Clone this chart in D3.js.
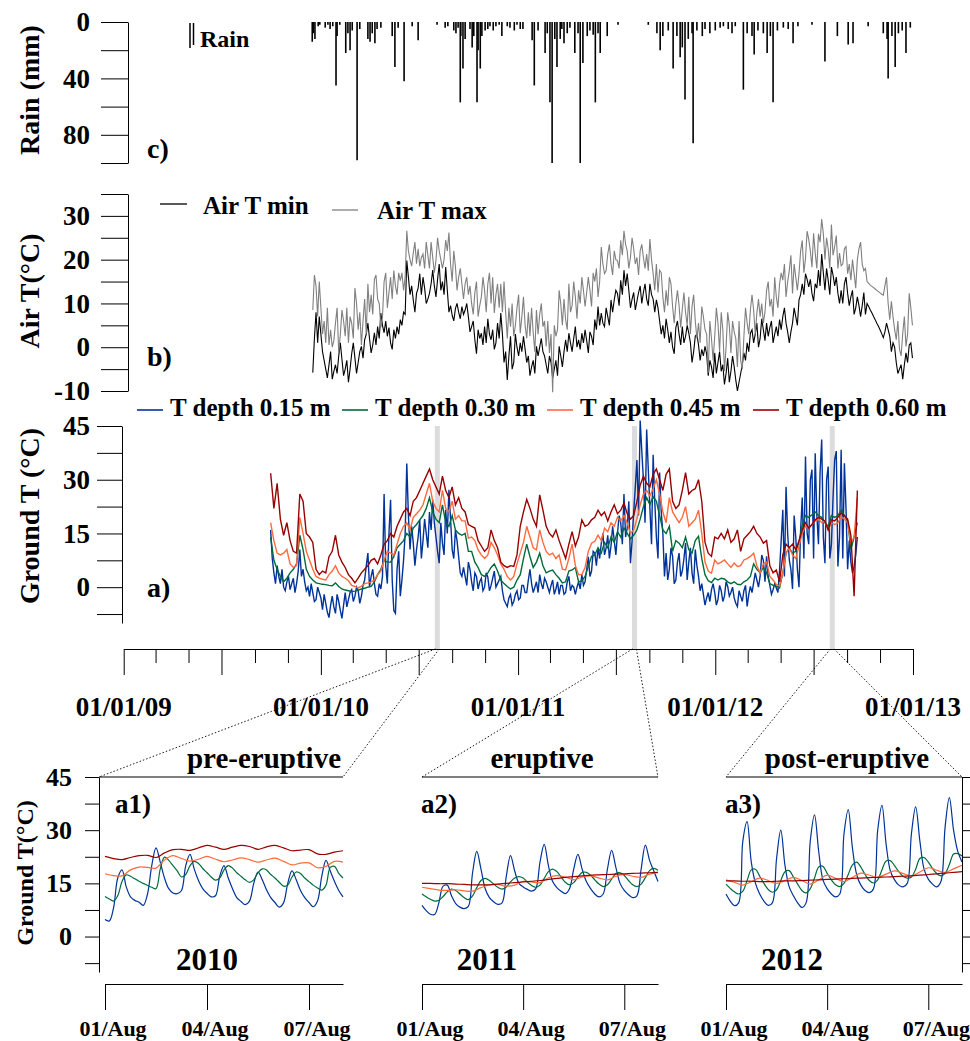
<!DOCTYPE html>
<html>
<head>
<meta charset="utf-8">
<title>Rain, air and ground temperature</title>
<script src="https://cdn.jsdelivr.net/npm/d3@7/dist/d3.min.js"></script>
<style>
  body { margin: 0; background: #fff; }
  svg text { font-family: "Liberation Serif", "Times New Roman", serif; font-weight: bold; fill: #000; }
</style>
</head>
<body>
<div id="putGraphic"></div>
<script>
// ---------------- data ----------------
var years = [2009, 2010, 2011, 2012, 2013];

// daily rain events [date, mm]
var rain = [
  ["2009-12-16",14],["2009-12-18",8],["2009-12-21",12],["2009-12-27",3],["2009-12-30",2],
  ["2010-01-09",4],["2010-01-14",2],["2010-01-18",5],["2010-01-23",3],["2010-01-29",45],
  ["2010-01-31",10],["2010-02-05",2],["2010-02-16",22],["2010-02-20",8],["2010-02-24",20],
  ["2010-02-28",6],["2010-03-09",98],["2010-03-14",5],["2010-03-29",12],["2010-04-02",14],
  ["2010-04-06",8],["2010-04-11",15],["2010-04-15",5],["2010-04-22",4],["2010-05-13",10],
  ["2010-05-18",32],["2010-05-24",4],["2010-06-04",42],["2010-06-19",3],["2010-06-30",13],
  ["2010-08-04",2],["2010-08-19",4],["2010-08-24",3],["2010-09-04",6],["2010-09-08",8],
  ["2010-09-12",4],["2010-09-16",57],["2010-09-17",10],["2010-09-21",33],["2010-09-25",12],
  ["2010-10-04",5],["2010-10-08",18],["2010-10-11",10],["2010-10-17",57],["2010-10-19",20],
  ["2010-10-23",33],["2010-10-26",10],["2010-11-01",6],["2010-11-06",5],["2010-11-10",3],
  ["2010-11-16",6],["2010-11-21",3],["2010-11-27",2],["2010-12-02",10],["2010-12-12",3],
  ["2010-12-17",4],["2010-12-25",6],["2010-12-30",2],["2011-01-05",5],["2011-01-10",5],
  ["2011-01-27",13],["2011-01-31",45],["2011-02-07",6],["2011-02-20",22],["2011-02-24",8],
  ["2011-03-01",57],["2011-03-05",100],["2011-03-10",12],["2011-03-14",32],["2011-03-20",12],
  ["2011-03-23",5],["2011-03-27",15],["2011-04-02",8],["2011-04-07",4],["2011-04-16",22],
  ["2011-04-22",8],["2011-04-26",100],["2011-05-01",29],["2011-05-09",10],["2011-05-14",6],
  ["2011-05-20",9],["2011-05-24",57],["2011-05-29",8],["2011-06-02",22],["2011-06-15",10],
  ["2011-07-05",2],["2011-08-30",2],["2011-09-15",8],["2011-09-21",20],["2011-09-26",10],
  ["2011-10-06",6],["2011-10-15",33],["2011-10-22",10],["2011-10-28",25],["2011-11-01",18],
  ["2011-11-06",55],["2011-11-12",12],["2011-11-19",8],["2011-11-21",86],["2011-11-28",6],
  ["2011-12-08",10],["2011-12-13",5],["2011-12-22",8],["2012-01-01",6],["2012-01-10",4],
  ["2012-01-16",3],["2012-01-25",5],["2012-02-01",8],["2012-02-07",3],["2012-02-22",48],
  ["2012-02-29",8],["2012-03-09",10],["2012-03-13",23],["2012-03-20",6],["2012-03-30",8],
  ["2012-04-06",22],["2012-04-12",10],["2012-04-17",57],["2012-04-25",6],["2012-05-06",4],
  ["2012-05-15",5],["2012-05-24",15],["2012-06-02",3],["2012-06-28",2],["2012-07-22",28],
  ["2012-08-14",10],["2012-09-03",16],["2012-09-12",15],["2012-10-10",3],["2012-11-07",8],
  ["2012-11-14",12],["2012-11-16",40],["2012-11-23",10],["2012-11-29",32],["2012-12-05",8],
  ["2012-12-12",6],["2012-12-19",22],["2012-12-27",4]
];

// air temperature: readings every 6 days from airStart, plus the readings 3 days later (Mid)
var airStart = "2009-12-17";
var airStepDays = 6;
var airMin = [
  -5.8,8,7,-1,-5,-4,-7.3,-4,-2,-2.8, -5,-8,-1.5,-2.5,-3.5,0.2,1.7,5.5,-1.3,3.3,
  4.7,7.8,3.3,2.5,1,4,4.7,6.3,8,19.8, 12,10.8,12.3,16.8,16,10,12.3,17.6,11.5,19,
  15,18.3,8,7.3,8.8,8,9.3,8.5,7,4.7, 1.7,4,
  3.2,4.7,6.5,1.7,-0.5,5.5,7.8,-3.5,-7.5,2.5, -3.5,0,1,2.5,-3.5,-6.5,-3,0.2,0,-1,
  -4,-2,-7,-3,0.2,-4.5,1.7,3.2,-1,4.7, 1.7,3.2,4,-1.3,2.5,6.3,9.3,7.8,4.7,7,
  10.8,10.8,12.3,15.3,17.6,16.8,9,12.5,10.5,14, 12.5,11,14.5,11,10.8,6,5,6.5,1,0,
  4.5,3,4.7,2.5,3.2,-3.5,2.5,0.5,-0.5,0.2, -6.5,-4.5,-1.3,-3.5,-5.5,-8.5,-2.5,-5.5,-4.5,-10,
  -6,-1.3,1,3.2,1,5.5,2,4,5.5,4.5, 1,4.7,6.3,7,5.5,1,5.5,7,10.8,14.5,
  16.8,13.8,12.3,14.5,17.6,21.3,13,15.3,18.3,14, 12.3,13,14.5,12.3,11.5,7.5,11.5,7,12.5,10,
  8.5,7,5.5,4,2.2,5.5,2.5,1,-3.5,-5, -7.3,-1.3,0.5,-2.5
];
var airMinMid = [
  2,1,3,-3,-7,-1,-5.5,-6,1,-6.5, -3,-5,1,-6,-1,-2.5,3,2,0.5,0.5,
  2,5,6,4.5,-0.5,2,3,5,7.5,16, 14,8,13.5,12,13.5,11,14.5,14,15.5,13,
  12,13,9.5,6,10,6.5,7.5,10,3.5,6, -1.5,2,
  0.5,1,3,4,1,2,3,-1,-2,-5, 3,-2,-1,-0.5,-2,-4.5,-6,-2,2,-2,
  -6,-3.5,-5,-6.5,-2,-1,-1,1,2,0, -0.5,1,1.5,3.5,0.5,4,5,5.5,9,5,
  8,13,9.5,12,14,13,11,8.5,12.5,10, 14.5,9.5,12,8,9,3,2,4,3.5,-1.5,
  6,0.5,1,5,1,-1,3,-3,-2,-1.5, -3,-7,-6,-1,-4,-6,-8,-2,-7.5,-8,
  -4,-3,-1,4,3,0,6.5,1.5,2.5,6, 3,2.5,4,9,3.5,3.5,9,5,12,12,
  15.5,15.5,10.5,13.5,14,17,18,12,16.5,16, 10,10,16,9.5,13,9,9.5,9.5,7.5,9.3,
  7.8,6.3,4.8,3.1,3.5,4,-1,0,-6,-4, -4,-3.5,1
];
var airMax = [
  8.5,14,15,3,1,0.5,0,5.5,-1.3,8.5, 2.5,1,5.5,13.5,4,0.5,11,14.5,12,15.5,
  11,4.5,15,9,16,17.5,12,15.2,13,26.6, 20,21.5,19.1,18.5,21.3,24,18,20.5,19.8,22,
  18,24.5,26.2,15,18.5,16,14.5,14.5,12,10, 12.5,7,
  11.5,13,14.5,10,7.8,14.5,14.5,15,2,4.7, 2.5,9,3.2,11.5,2,2.5,3.3,8.5,7.5,4.7,
  0.2,-1.3,-10.3,2.5,13,5,6.3,14.5,9.5,11.5, 13,16,9.3,16,9.3,15,11.5,22.9,16.8,21.3,
  19,22,19.8,24.4,26.6,22,20.5,22.5,20.5,22, 20.5,21.3,24.7,16.8,19,17.6,11.5,13,16,9.3,
  10,9.5,8.8,8,11.5,9.3,6,5.5,9.3,4, -5.8,2,2.5,5.5,8,-5.5,8,-1.3,3.5,-4.5,
  -3,2.5,5.5,8.5,8.5,7.8,7,5.5,13,9.3, 7,11.5,14.5,15.3,11.5,17.5,12.3,16,16.8,24.4,
  20.3,24.7,18.3,21.5,25.9,29.3,20,22.5,28,23, 18,18.6,22.5,16.8,15.3,16.8,20,24,17.5,15,
  14.2,13.6,13,12.4,11.9,16,6.3,7,1.7,-0.5, 3.2,0.2,12.3,5
];
var airMaxMid = [
  16.5,7,9,6,9,4,1.5,9,3,6, 9,7,2,10,8,6,3,8,7.5,16.5,
  10,7,17,12.5,11,14,17,17,16,22, 18.5,24,22.5,20.5,18,21,24,17,25,20,
  20,22,19,22,13,18,11,16,14,7.5, 15,9.5,
  16,8,17,16,12,9,8,8,9,10, 5,12,7,5,8,9,-1,3,10,6,
  6,3,5,4,10,11,4,8,15,6.5, 10,13,12.5,13,17,18,15,19,17.5,23.5,
  16.5,20,18,21,23.5,18,25,19,16.5,23.5, 18,17.5,20,13,12.5,17,8,9.5,14.5,5.5,
  13,4.5,12.5,5,3,12,2,1,7,3, 6,-3,9,-1,4,0,5,6,2,6,
  -5,9,3,12,3,11,10,8,15,11, 16,9,17,19,15,21,19,13,22,17,
  26.5,22,26,18,24,26,25,18,21,25.5, 21.5,19,23,19,20,13.5,22.5,19,18,14.6,
  13.9,13.3,12.7,12.1,14,10,10.5,4,6,-2, 7,3,9
];

// ground temperature: readings every 6 days from groundStart (0.15 m also 3 days later)
var groundStart = "2009-09-30";
var groundStepDays = 6;
var depthLabels = ["T depth 0.15 m", "T depth 0.30 m", "T depth 0.45 m", "T depth 0.60 m"];
var t015 = [
  16,4,6,1,0,1.5,-0.7,2.5,1,10.5, 5,-1,-2.6,-1.5,-3.5,-1.5,-6.3,-4.5,-8.5,-2.5,
  -7.3,-4,-8.7,-1.5,-3.5,-0.7,-2.5,-1,-2.5,2, 9.5,3,1,-2.5,-0.5,26,1,24.4,-6.5,5,
  -2.5,7.5,34.5,10.5,12.3,10.5,18.8,13,15,21, 24.4,14,6.7,12.3,21.6,27.2,10.5,16,8.5,3,
  3,7,1.5,4,-0.5,2.5,0,2.8,0.5,4.5, 1,3,-3.5,-5.4,-2,-4,-1,-3,0.5,-1.5,
  5,-1.5,1.5,3.5,-0.5,1.5,-1.5,2,-0.5,-2, 0.5,-1.5,3,0.5,-2,1.5,3.5,1.5,8.5,4.5,
  9.5,11,12.3,9,14.5,11.5,13,15,18,26, 16.5,6.7,21,35.5,46.5,30,44,22,37,14,
  32,15,
  9.5,5,8.6,2,9.5,4.5,12.3,7,4,10.5, 3,1,-5,-1.5,-0.7,-1.5,-3.5,-1,-2.5,0.2,
  -1.5,-3,-5.4,-2.5,-1,-5.4,0.2,1.2,2,3, 7.5,8.6,0.5,-0.7,-0.2,4.8,21.6,28,7.6,-0.5,
  14,0,25,36.5,12,32.8,37.4,12,41.2,6.7, 33.7,12,35.6,5.8,38.4,34.6,5,7,5.8,14
];
var t015Mid = [
  8,1,3,5,-1,3,1,-1.5,4.5,3, 1.5,0,1,-4,0,-3,-2,-7,-5,-5.5,
  -2,-6.5,-5,-5.5,-1.5,-4,0,-4.5,0.5,6, 0,5,-2,1,3,6,15,2,-7.3,10,
  2,15,20,17,6,14,8,19,11,16, 18,10,18,9,15,19,8,13,4,5.5,
  0.5,5,-1,3,1.5,-1,4,-1,2.5,0, 2,-1,-4.5,-3,-5,-2,-3.5,0.5,-1.5,2,
  1,0,-1.5,1,2.5,0,0.5,-2,1.5,0.5, -2,1.5,-1,0,0,-0.5,0.5,5,3,10,
  6,8,15,11,8,17,9,20,12,14, 24,13,28,20,38,18,33,12,24,8,
  21,3,
  2,11,1,7,3,8,2,11,1,6, -1,-2,-3,-4,1,-5,0.5,-4,1.5,-2.5,
  0,-4.5,-1,-4,0.5,-2,-1.5,4,0,9, 1.5,3,-2,1,-1.5,13,3,15,5,20,
  5,16,8,15,30,8,20,32,14,30, 8,25,38,14,8,22,13,4,9
];
var t030 = [
  14,7.5,5,3,1.5,2.5,4,5,6.5,14.5, 10.5,5,3,2,1.2,1.0,0.8,0.7,0.5,0.4,
  1.2,0.2,-0.5,-0.8,-1,-1.2,-1.1,-0.8,-0.5,-0.3, 0,0.2,1.5,3.5,5,7.5,7,7,8.5,11,
  12,13,15,14,16.5,17.5,18.8,20,22,25, 21,19,18,23,18,17,20,16,15,14.5,
  15,10,10,7,5.5,3.5,3,4,5.5,6.5, 4.5,2,1,0.2,-0.5,0,2,3.5,8,12,
  8.5,5.5,7,9.5,6,4,4.5,4.8,3.5,2.5, 1.2,1.5,4.5,4.8,5.5,1.5,1.8,3,5.8,8.6,
  9,11,9.5,12.5,11,14,12.5,15.5,14,16.5, 15,13.5,14.5,16,19,22.5,25,23,25.3,24,
  20,16,
  15,17,10,13,12.3,11,14,10.5,9.5,13, 14.2,8,3.5,1.8,1.3,2.5,2,2.5,2.3,1.5,
  1.0,1.5,0.8,0.7,1.5,2,3,6.5,5,4, 5.5,4,1,0.5,0.3,-0.2,4,9.5,11,9.5,
  10,12.5,17.5,20,19.5,20.2,21,20,19.5,18, 17,20,19.5,20,21.5,20,18.5,10.5,14,18
];
var t045 = [
  18,13,9.5,9,9.5,10.5,6.5,5.5,6,19.5, 15,10,7.5,5,3,2.5,2.2,2,3.5,4.5,
  6,4,3,2.5,1.8,0.5,0.2,-0.2,0.3,1, 1.2,1.5,2,3.5,4.5,7.5,10,9.5,9,12,
  15,17,18,16,19.5,20.5,21.5,23,26,29, 24,22,21,27,22,21,24,19,20,18.5,
  18.5,13.7,14,13,10.4,9,8,9,12.5,11, 9,6.5,5,3,2,3,6.5,9.5,12.5,17,
  14,11,10.4,16,12.5,10,9,9.5,8,9, 5,4.8,8,12,6,3.5,3.5,5.5,10,12.3,
  12.8,14.5,13,16.5,15.5,18,17,19.5,18.5,20, 17.9,15,16,19,23,26,27,25.5,27.5,30,
  26,21,
  18,25,21,19.5,18,19.5,22.5,17,18,19, 21.5,15,7,4.5,3.9,7.6,6.5,7,7.6,6.5,
  5.5,6.7,5.8,6,7.6,8,8.6,9.5,6,4, 6.5,7,3,2,0.8,0.3,4,9.5,11,9,
  8,11.5,15,17,16.5,17.5,18.5,19,18,18.5, 16,18,17.5,18,19.7,19,18,12.3,14,25
];
var t060 = [
  31.8,22,29,19,14.5,18,13,10,9.5,26, 24,15,14,12.5,5,3.5,4.5,4,8.5,10,
  14.5,9,7,5.5,3.5,2.5,1.2,2.5,4,5, 6,7.5,8,6.5,9,12,13,15,14,17,
  19,21,22,20,24,25,27,29,31,33, 30,28,26,31,27,25,28,23,25,22,
  21,17.5,17,16.5,13,11.5,10,11,16,13, 11,7,6,5.5,6,5.8,9,17,21,24.5,
  22,19,17,25.8,21.5,17,15,14,16,13, 10.5,8,12,15.5,11.5,14,18.8,17,17.5,18.8,
  19.5,21.5,20,21,18.5,21,23,20.5,21.5,23.5, 20.5,19,20,24,28.5,31,29,28,31.5,33,
  30,27,
  31.5,33,24,22,23,27,32,26,27,27.5, 30,24,12.5,9.5,8.6,14,13.5,15,13.5,16,
  12.5,13.5,16,10,13.5,14.5,15.5,17,15,14, 12.3,13,6,4,4.8,1.5,9,12,11,12,
  10.5,13,16,18,16.5,17.5,18.8,19.5,19,18.5, 16,18.8,18.5,19.5,20.7,20,19,14.5,-2.5,27
];

// zoomed weeks (1-8 August); 0.15/0.30 m every 3 h, 0.45/0.60 m every 6 h
var insetYears = [2010, 2011, 2012];
var insetNames = ["pre-eruptive", "eruptive", "post-eruptive"];
var insetTags = ["a1)", "a2)", "a3)"];
var insetTickDays = [1, 4, 7];
var seriesStepHours = [3, 3, 6, 6];

var blue2010 = [4.8,4.4,8,16.5,18.8,14,11.2,10.2, 9.7,8.8,12,20,25,21,16.5,13.5,
  12.3,12.1,13,20,23.2,19,15.8,13.5, 12.2,11.2,11.5,17,20,16.5,13.5,11,
  9.9,9,10,15,18.2,16,13.2,11, 9.6,8.3,9.5,15,18.5,16,13,11, 9.6,8.4,10,17,21.5,18.5,15.5,13, 11.2];
var green2010 = [11.3,10.6,10.0,11.5,15.5,17.4,17.0,16.3, 15.6,15.0,14.4,13.9,13.5,19,22.4,21.5,
  20,18.5,16.8,17.5,20,21.2,20.6,19.2, 18,16.8,15.9,16.5,18.8,20,19.3,18,
  17,16,15.3,16,18,19.1,18.8,17.5, 16.5,15.3,14.2,14.5,16.8,18.2,17.8,16.5,
  15.5,14.5,13.7,13.1,14.5,19.5,19.8,17.8, 16.5];
var orange2010 = [17.7,17.2,17.1,18.8,19.6,19.5,19.3,21.6,22.8,22.0,21.3,21.8,22.6,21.8,21.1,
  21.6,22.2,21.7,21.0,21.6,22.1,21.2,20.2,20.7,20.8,19.4,19.8,21.2,21.0];
var red2010 = [22.6,22.0,21.7,22.3,22.8,22.9,22.3,23.6,24.5,24.6,24.3,25.0,25.7,25.2,24.6,
  25.2,25.7,25.4,24.6,25.3,25.7,25.0,24.2,24.4,24.5,23.3,23.2,23.8,24.2];

var blue2011 = [8.8,7.3,6.3,6.2,9.5,14.2,14.5,11.5, 9.3,8.3,7.9,8.5,18,24,19,13.5,
  11,9.8,9.1,9.5,17,22.8,18.5,15, 14,13.3,12.8,13.5,21,26,20,15.5,
  13.8,12.8,12.1,13.5,19,23.2,19,15.5, 13.5,12,11.2,12,19,24.3,19.5,15,
  13,11.8,11,11.5,19,25.8,21.5,18.5, 15.5];
var green2011 = [12.0,11.2,10.5,10.0,10.2,11.3,12.6,13.4, 13.0,12.0,11.0,10.4,11.5,13.8,15.8,16.4,
  15.8,14.8,13.9,13.4,14.0,15.4,16.5,16.9, 16.5,15.4,14.4,13.9,14.5,16.4,18.3,19.0,
  18.3,16.8,15.3,14.6,15.2,16.8,18.1,18.1, 17.3,16.0,14.8,14.1,14.6,16.2,17.8,18.0,
  17.2,15.8,14.6,14.1,14.8,16.6,18.6,19.2, 18.7];
var orange2011 = [13.9,13.5,13.1,13.0,13.2,12.9,12.8,13.8,14.6,14.7,14.2,14.5,15.6,15.4,15.2,
  16.6,17.2,16.8,16.0,16.8,17.1,16.5,16.0,17.0,17.5,17.0,16.7,17.6,18.1];
var red2011 = [15.0,15.0,14.9,14.9,14.8,14.7,14.6,14.6,14.6,14.8,15.0,15.2,15.4,15.6,15.8,
  16.1,16.4,16.7,16.9,17.1,17.3,17.4,17.5,17.6,17.7,17.8,17.9,18.0,18.1];

var blue2012 = [12,10,8.7,9.5,27,32.4,21,15, 12,10,8.8,9.5,22,30,20,14,
  11.5,9.5,8.2,9.5,27,34.3,24,16, 13.5,12,11.2,12,29,35.8,25,17.5,
  14.5,13,12.4,13.5,30,37,26,18.5, 16,14.5,14,15,29,36.6,27,19,
  16.2,14.8,14,15.5,31,39.2,30,24, 21];
var green2012 = [14.8,13.6,12.6,12.0,12.8,15.8,18.8,19.0, 17.0,15.0,13.3,12.5,13.2,15.8,18.3,18.6,
  16.8,14.8,13.0,12.3,13.5,16.5,19.6,19.8, 17.8,16.0,14.6,14.1,15.0,17.5,20.2,21.0,
  19.6,17.5,15.8,15.1,16.0,18.8,21.3,21.4, 20.0,18.3,17.0,16.5,16.8,19.0,22.0,22.3,
  21.0,19.2,17.8,17.1,17.8,20.3,23.3,23.4, 22.7];
var orange2012 = [16.0,15.3,14.5,15.5,16.5,15.8,15.0,15.8,16.7,15.8,14.8,16.0,17.3,16.4,15.5,
  16.7,17.9,17.3,16.7,17.6,18.5,17.8,17.1,18.2,19.4,18.7,18.1,19.1,20.1];
var red2012 = [15.7,15.7,15.6,15.6,15.5,15.5,15.6,15.7,15.7,15.8,15.9,16.0,16.1,16.2,16.3,
  16.4,16.5,16.6,16.7,16.8,16.9,17.0,17.1,17.3,17.5,17.7,17.9,18.1,18.3];

// ---------------- drawing ----------------
var depthColors = ["#003399", "#006b3c", "#ff6a3d", "#990000"];

// put the in-between readings back in time order
function interleave(a, mid) {
    var out = [];
    a.forEach(function(v, i) {
        out.push(v);
        if (i < mid.length) out.push(mid[i]);
    });
    return out;
}
var airMinAll = interleave(airMin, airMinMid);
var airMaxAll = interleave(airMax, airMaxMid);
var groundSeries = [
    {values: interleave(t015, t015Mid), step: groundStepDays / 2},
    {values: t030, step: groundStepDays},
    {values: t045, step: groundStepDays},
    {values: t060, step: groundStepDays}
];
var insetData = [
  [blue2010, green2010, orange2010, red2010],
  [blue2011, green2011, orange2011, red2011],
  [blue2012, green2012, orange2012, red2012]
];

var width = 970, height = 1041;
var parse = d3.timeParse("%Y-%m-%d");

var svg = d3.select("#putGraphic")
    .append("svg")
    .attr("width", width)
    .attr("height", height)
    .style("background", "white");

function txt(xp, yp, s, size, anchor) {
    return svg.append("text")
        .attr("x", xp).attr("y", yp)
        .attr("font-size", size)
        .attr("text-anchor", anchor || "start")
        .text(s);
}
function vtxt(xp, yp, s, size) {
    return svg.append("text")
        .attr("transform", "translate(" + xp + "," + yp + ")rotate(-90)")
        .attr("font-size", size)
        .attr("text-anchor", "middle")
        .text(s);
}
function styleAxis(g, size) {
    g.attr("font-size", size);
    g.selectAll("path, line").attr("stroke", "#000").attr("stroke-width", 1);
    g.selectAll("text").attr("fill", "#000");
}

var x = d3.scaleTime().domain([new Date(2009, 0, 1), new Date(2013, 0, 1)]).range([123.7, 913]);

// c) rain
var rainY = d3.scaleLinear().domain([0, 100]).range([22, 163]);
var gRain = svg.append("g").attr("transform", "translate(128,0)")
    .call(d3.axisLeft(rainY).tickValues([0, 20, 40, 60, 80, 100])
        .tickFormat(function(d) { return d % 40 === 0 ? d : ""; })
        .tickSize(27).tickPadding(11).tickSizeOuter(0));
styleAxis(gRain, 27);

svg.append("g").selectAll("line")
    .data(rain)
    .enter()
    .append("line")
    .attr("x1", function(d) { return x(parse(d[0])); })
    .attr("x2", function(d) { return x(parse(d[0])); })
    .attr("y1", rainY(0))
    .attr("y2", function(d) { return rainY(d[1]); })
    .attr("stroke", "#000")
    .attr("stroke-width", 1.6);

vtxt(39, 90, "Rain (mm)", 28);
txt(147, 158, "c)", 28);
svg.append("line").attr("x1", 190).attr("x2", 190).attr("y1", 23).attr("y2", 48).attr("stroke", "#000").attr("stroke-width", 1.5);
svg.append("line").attr("x1", 193.5).attr("x2", 193.5).attr("y1", 23).attr("y2", 45).attr("stroke", "#000").attr("stroke-width", 1.5);
txt(200, 47, "Rain", 24);

// b) air temperature
var airY = d3.scaleLinear().domain([-10, 35]).range([391, 194]);
var gAir = svg.append("g").attr("transform", "translate(128,0)")
    .call(d3.axisLeft(airY).tickValues(d3.range(-10, 36, 5))
        .tickFormat(function(d) { return d % 10 === 0 ? d : ""; })
        .tickSize(27).tickPadding(11).tickSizeOuter(0));
styleAxis(gAir, 27);

var airT0 = parse(airStart);
var airLine = d3.line()
    .x(function(d, i) { return x(d3.timeDay.offset(airT0, i * airStepDays / 2)); })
    .y(function(d) { return airY(d); });
svg.append("path").attr("d", airLine(airMinAll)).attr("fill", "none").attr("stroke", "#000").attr("stroke-width", 1.1);
svg.append("path").attr("d", airLine(airMaxAll)).attr("fill", "none").attr("stroke", "#808080").attr("stroke-width", 1.1);

vtxt(39, 291, "Air T(\u00B0C)", 28);
txt(147, 366, "b)", 28);
svg.append("line").attr("x1", 160).attr("x2", 187).attr("y1", 204).attr("y2", 204).attr("stroke", "#000").attr("stroke-width", 1.3);
txt(203, 214, "Air T min", 25);
svg.append("line").attr("x1", 332).attr("x2", 358).attr("y1", 210).attr("y2", 210).attr("stroke", "#808080").attr("stroke-width", 1.3);
txt(377, 219, "Air T max", 25);

// a) ground temperature
var gY = d3.scaleLinear().domain([-10, 45]).range([623, 426]);

insetYears.forEach(function(yr) {
    var cx = (x(new Date(yr, 7, 1)) + x(new Date(yr, 7, 8))) / 2;
    svg.append("rect").attr("x", cx - 2.5).attr("y", 426).attr("width", 5).attr("height", 223).attr("fill", "#dcdcdc");
});

var gGround = svg.append("g").attr("transform", "translate(122,0)")
    .call(d3.axisLeft(gY).tickValues(d3.range(-7.5, 46, 7.5))
        .tickFormat(function(d) { return d % 15 === 0 ? d : ""; })
        .tickSize(25).tickPadding(7).tickSizeOuter(0));
styleAxis(gGround, 27);

var gT0 = parse(groundStart);
groundSeries.forEach(function(s, k) {
    var line = d3.line()
        .x(function(d, i) { return x(d3.timeDay.offset(gT0, i * s.step)); })
        .y(function(d) { return gY(d); });
    svg.append("path").attr("d", line(s.values)).attr("fill", "none")
        .attr("stroke", depthColors[k]).attr("stroke-width", 1.4);
});

vtxt(39, 516, "Ground T (\u00B0C)", 28);
txt(147, 597, "a)", 28);
var legX = [137, 342, 547, 753];
depthLabels.forEach(function(lab, k) {
    svg.append("line").attr("x1", legX[k]).attr("x2", legX[k] + 26).attr("y1", 410).attr("y2", 410)
        .attr("stroke", depthColors[k]).attr("stroke-width", 1.6);
    txt(legX[k] + 33, 416, lab, 25);
});

// shared time axis
var tickDates = d3.timeMonth.every(2).range(new Date(2009, 0, 1), new Date(2013, 0, 2));
var gx = svg.append("g").attr("transform", "translate(0,649)")
    .call(d3.axisBottom(x).tickValues(tickDates).tickSize(14).tickFormat("").tickSizeOuter(0));
styleAxis(gx, 27);
gx.selectAll(".tick line").attr("y2", function(d) { return d.getMonth() % 6 === 0 ? 26 : 14; });
var fmtYear = d3.timeFormat("%d/%m/%y");
years.forEach(function(y) {
    txt(x(new Date(y, 0, 1)), 716, fmtYear(new Date(y, 0, 1)), 27, "middle");
});

// zoomed weeks
var insetY = d3.scaleLinear().domain([-10, 45]).range([972, 777]);
var insetRange = [[105, 343], [422, 658], [726, 962]];
var insetTop = [[99, 343], [422, 658], [726, 962]];
var insetTitleX = [264, 542, 847];
var insetYearX = [207, 487, 792];
var fmtDay = d3.timeFormat("%d/%b");

insetYears.forEach(function(yr, k) {
    var t0 = new Date(yr, 7, 1);
    var xs = d3.scaleTime().domain([t0, d3.timeDay.offset(t0, 7)]).range(insetRange[k]);

    // connectors from the grey band to the panel
    [[x(t0), insetTop[k][0]], [x(d3.timeDay.offset(t0, 7)), insetTop[k][1]]].forEach(function(p) {
        svg.append("line").attr("x1", p[0]).attr("y1", 649).attr("x2", p[1]).attr("y2", 777)
            .attr("stroke", "#000").attr("stroke-width", 0.9).attr("stroke-dasharray", "1.5,2");
    });
    svg.append("line").attr("x1", insetTop[k][0]).attr("x2", insetTop[k][1]).attr("y1", 777).attr("y2", 777)
        .attr("stroke", "#000").attr("stroke-width", 1);
    txt(insetTitleX[k], 768, insetNames[k], 29, "middle");

    insetData[k].forEach(function(s, j) {
        var line = d3.line()
            .x(function(d, i) { return xs(new Date(+t0 + i * seriesStepHours[j] * 3600e3)); })
            .y(function(d) { return insetY(d); })
            .curve(d3.curveCatmullRom.alpha(0.5));
        svg.append("path").attr("d", line(s)).attr("fill", "none")
            .attr("stroke", depthColors[j]).attr("stroke-width", 1.2);
    });

    var ticks = insetTickDays.map(function(d) { return new Date(yr, 7, d); });
    var ga = svg.append("g").attr("transform", "translate(0,984)")
        .call(d3.axisBottom(xs).tickValues(ticks).tickSize(26).tickFormat("").tickSizeOuter(0));
    styleAxis(ga, 22);
    ticks.forEach(function(t) { txt(xs(t) + 8, 1036, fmtDay(t), 22, "middle"); });

    txt(insetRange[k][0] + (k === 0 ? 10 : -1), 813, insetTags[k], 27);
    txt(insetYearX[k], 970, String(yr), 31, "middle");
});

var gi1 = svg.append("g").attr("transform", "translate(99,0)")
    .call(d3.axisLeft(insetY).tickValues(d3.range(-7.5, 46, 7.5))
        .tickFormat(function(d) { return d % 15 === 0 ? d : ""; })
        .tickSize(14).tickPadding(13).tickSizeOuter(0));
styleAxis(gi1, 26);
var gi3 = svg.append("g").attr("transform", "translate(962,0)")
    .call(d3.axisRight(insetY).tickValues(d3.range(-7.5, 46, 7.5)).tickFormat("")
        .tickSize(8).tickSizeOuter(0));
styleAxis(gi3, 26);
vtxt(33, 873, "Ground T(\u00B0C)", 24);
</script>
</body>
</html>
